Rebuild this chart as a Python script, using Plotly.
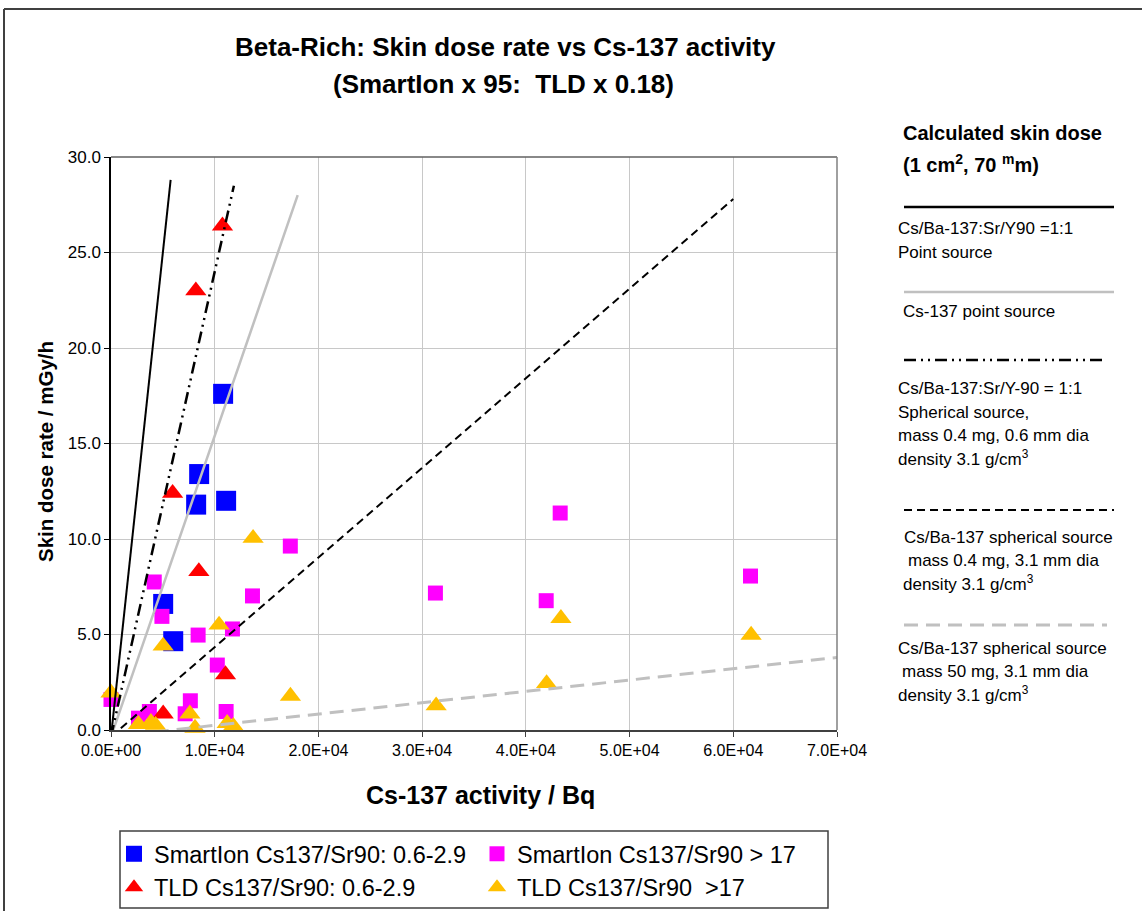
import plotly.graph_objects as go

FONT = "Liberation Sans, Arial, sans-serif"

# ---------------- data ----------------
smart_low_x = [10810, 8500, 8210, 11100, 5030, 6000]
smart_low_y = [17.6, 13.4, 11.8, 12.0, 6.6, 4.65]

smart_high_x = [0, 2650, 3700, 4170, 4910, 7150, 7650, 8400, 10250, 11100,
                11710, 13640, 17290, 31280, 41960, 43310, 61660]
smart_high_y = [1.6, 0.62, 0.97, 7.75, 5.95, 0.85, 1.53, 4.97, 3.4, 0.97,
                5.29, 7.02, 9.63, 7.17, 6.77, 11.36, 8.06]

tld_low_x = [10750, 8180, 5940, 8470, 11040, 5030]
tld_low_y = [26.4, 23.0, 12.4, 8.3, 2.9, 0.85]

tld_high_x = [0, 2650, 3850, 4300, 5030, 7600, 8100, 10420, 11200, 11790,
              13700, 17300, 31350, 42000, 43380, 61720]
tld_high_y = [1.95, 0.3, 0.4, 0.25, 4.4, 0.85, 0.1, 5.5, 0.35, 0.2,
              10.04, 1.78, 1.27, 2.44, 5.85, 4.97]

# calculated skin dose lines
point_mix_x = [0, 5750]
point_mix_y = [-0.35, 28.8]
point_cs_x = [0, 18000]
point_cs_y = [-0.35, 28.0]
sph_mix_x = [0, 11850]
sph_mix_y = [-0.35, 28.5]
sph_cs04_x = [0, 60000]
sph_cs04_y = [-0.35, 27.8]
sph_cs50_x = [0, 70000]
sph_cs50_y = [-0.35, 3.8]

x_tickvals = [0, 10000, 20000, 30000, 40000, 50000, 60000, 70000]
x_ticktext = ["0.0E+00", "1.0E+04", "2.0E+04", "3.0E+04", "4.0E+04",
              "5.0E+04", "6.0E+04", "7.0E+04"]
y_tickvals = [0, 5, 10, 15, 20, 25, 30]

# ---------------- layout geometry ----------------
W, H = 1142, 911
L, R, T, B = 111, 837, 157, 730


def px(X):
    return (X - L) / (R - L)


def py(Y):
    return (B - Y) / (B - T)


DASHDOTDOT = "12px,5px,2px,5px,2px,5px"

fig = go.Figure()

fig.add_trace(go.Scatter(
    x=smart_low_x, y=smart_low_y, mode="markers",
    name="SmartIon Cs137/Sr90: 0.6-2.9",
    marker=dict(symbol="square", size=20, color="#0000FF"),
    cliponaxis=False))
fig.add_trace(go.Scatter(
    x=smart_high_x, y=smart_high_y, mode="markers",
    name="SmartIon Cs137/Sr90 > 17",
    marker=dict(symbol="square", size=15, color="#FF00FF"),
    cliponaxis=False))
fig.add_trace(go.Scatter(
    x=tld_low_x, y=tld_low_y, mode="markers",
    name="TLD Cs137/Sr90: 0.6-2.9",
    marker=dict(symbol="triangle-up", size=18.5, color="#FF0000"),
    cliponaxis=False))
fig.add_trace(go.Scatter(
    x=tld_high_x, y=tld_high_y, mode="markers",
    name="TLD Cs137/Sr90  >17",
    marker=dict(symbol="triangle-up", size=18.5, color="#FFC000"),
    cliponaxis=False))

line_specs = [
    (point_mix_x, point_mix_y, "black", 2, "solid"),
    (point_cs_x, point_cs_y, "#C0C0C0", 2.5, "solid"),
    (sph_mix_x, sph_mix_y, "black", 2.5, DASHDOTDOT),
    (sph_cs04_x, sph_cs04_y, "black", 2, "8px,5px"),
    (sph_cs50_x, sph_cs50_y, "#C0C0C0", 3, "14px,8px"),
]
for lx, ly, col, wid, dash in line_specs:
    fig.add_trace(go.Scatter(x=lx, y=ly, mode="lines", showlegend=False,
                             line=dict(color=col, width=wid, dash=dash),
                             cliponaxis=False, hoverinfo="skip"))

shapes = []
# outer chart border
shapes.append(dict(type="line", xref="paper", yref="paper",
                   x0=px(4), y0=py(9), x1=px(W + 5), y1=py(9),
                   line=dict(color="#404040", width=2)))
shapes.append(dict(type="line", xref="paper", yref="paper",
                   x0=px(4), y0=py(9), x1=px(4), y1=py(H + 5),
                   line=dict(color="#404040", width=2)))
# plot area frame top and right
shapes.append(dict(type="line", xref="paper", yref="paper",
                   x0=0, y0=1, x1=1, y1=1,
                   line=dict(color="#606060", width=1.5)))
shapes.append(dict(type="line", xref="paper", yref="paper",
                   x0=1, y0=0, x1=1, y1=1,
                   line=dict(color="#808080", width=1.5)))
# bottom legend box
shapes.append(dict(type="rect", xref="paper", yref="paper",
                   x0=px(120), y0=py(831), x1=px(828), y1=py(908),
                   line=dict(color="#404040", width=1.5)))

# right-side legend line samples
side_lines = [
    (207, 904, 1114, "black", 2.5, "solid"),
    (292, 904, 1114, "#C0C0C0", 2.5, "solid"),
    (360, 904, 1107, "black", 2.5, DASHDOTDOT),
    (510, 904, 1114, "black", 2, "8px,5px"),
    (625, 904, 1107, "#C0C0C0", 3, "14px,8px"),
]
for yy, xa, xb, col, wid, dash in side_lines:
    shapes.append(dict(type="line", xref="paper", yref="paper",
                       x0=px(xa), y0=py(yy), x1=px(xb), y1=py(yy),
                       line=dict(color=col, width=wid, dash=dash)))

annotations = []


def txt(X, Y, s, size, bold=False, xanchor="left", angle=0):
    annotations.append(dict(
        x=px(X), y=py(Y), xref="paper", yref="paper", text=s,
        showarrow=False, xanchor=xanchor, yanchor="middle", textangle=angle,
        font=dict(family=FONT, size=size, color="black",
                  weight="bold" if bold else "normal")))


# titles
txt(505, 47, "Beta-Rich: Skin dose rate vs Cs-137 activity", 26, True, "center")
txt(503, 84, "(SmartIon x 95:  TLD x 0.18)", 26, True, "center")
txt(480, 795, "Cs-137 activity / Bq", 25, True, "center")
txt(45, 452, "Skin dose rate / mGy/h", 20.5, True, "center", -90)

# side legend text
txt(901, 133, "Calculated skin dose", 20, True)
txt(901, 163, "(1 cm<sup>2</sup>, 70 <sup>m</sup>m)", 20, True)
txt(896, 228, "Cs/Ba-137:Sr/Y90 =1:1", 17)
txt(896, 252, "Point source", 17)
txt(901, 311, "Cs-137 point source", 17)
txt(896, 388, "Cs/Ba-137:Sr/Y-90 = 1:1", 17)
txt(896, 412, "Spherical source,", 17)
txt(896, 435, "mass 0.4 mg, 0.6 mm dia", 17)
txt(896, 458, "density 3.1 g/cm<sup>3</sup>", 17)
txt(902, 537, "Cs/Ba-137 spherical source", 17)
txt(906, 560, "mass 0.4 mg, 3.1 mm dia", 17)
txt(901, 583, "density 3.1 g/cm<sup>3</sup>", 17)
txt(896, 648, "Cs/Ba-137 spherical source", 17)
txt(900, 671, "mass 50 mg, 3.1 mm dia", 17)
txt(896, 694, "density 3.1 g/cm<sup>3</sup>", 17)

fig.update_layout(
    width=W, height=H,
    margin=dict(l=L, r=W - R, t=T, b=H - B, pad=0, autoexpand=False),
    paper_bgcolor="white", plot_bgcolor="white",
    font=dict(family=FONT, size=16, color="black"),
    showlegend=True,
    legend=dict(orientation="h", x=px(114), xanchor="left",
                y=py(832), yanchor="top",
                font=dict(family=FONT, size=23.5, color="black"),
                entrywidth=318, bgcolor="rgba(0,0,0,0)", borderwidth=0,
                itemsizing="trace", tracegroupgap=0),
    shapes=shapes,
    annotations=annotations,
    xaxis=dict(range=[0, 70000], tickvals=x_tickvals, ticktext=x_ticktext,
               showgrid=True, gridcolor="#C8C8C8", gridwidth=1,
               zeroline=False, showline=True, linecolor="#404040",
               linewidth=2, ticks="outside", ticklen=5, tickcolor="#404040",
               tickfont=dict(family=FONT, size=16, color="black")),
    yaxis=dict(range=[0, 30], tickvals=y_tickvals, tickformat=".1f",
               showgrid=True, gridcolor="#C8C8C8", gridwidth=1,
               zeroline=False, showline=True, linecolor="black",
               linewidth=1.5, ticks="outside", ticklen=5, tickcolor="black",
               tickfont=dict(family=FONT, size=17, color="black")),
)

fig.write_html("out.html")
